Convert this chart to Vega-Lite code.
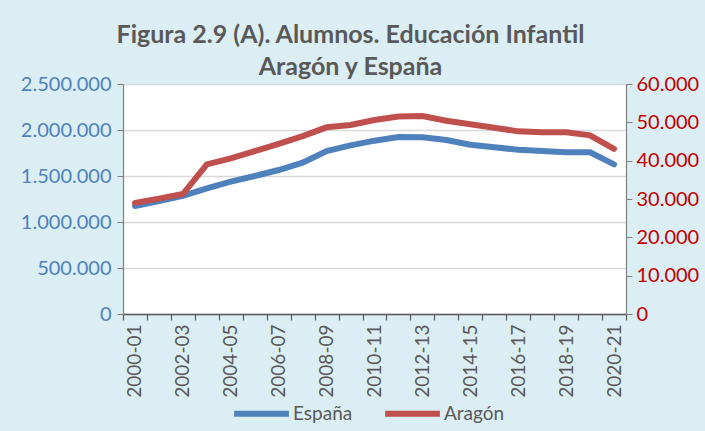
{
  "$schema": "https://vega.github.io/schema/vega-lite/v6.json",
  "width": 503,
  "height": 230,
  "autosize": {"type": "none"},
  "padding": {"left": 123, "top": 84, "right": 79, "bottom": 117},
  "background": "#DBEEF4",
  "title": {
    "text": ["Figura 2.9 (A). Alumnos. Educación Infantil", "Aragón y España"],
    "font": "Lato",
    "fontSize": 25,
    "fontWeight": "bold",
    "color": "#595959",
    "lineHeight": 32,
    "anchor": "middle",
    "baseline": "alphabetic",
    "dx": -24,
    "dy": 35,
    "offset": 9
  },
  "data": {
    "values": [
      {"curso": "2000-01", "serie": "España", "valor": 1174000},
      {"curso": "2001-02", "serie": "España", "valor": 1228000},
      {"curso": "2002-03", "serie": "España", "valor": 1283000},
      {"curso": "2003-04", "serie": "España", "valor": 1366000},
      {"curso": "2004-05", "serie": "España", "valor": 1438000},
      {"curso": "2005-06", "serie": "España", "valor": 1500000},
      {"curso": "2006-07", "serie": "España", "valor": 1565000},
      {"curso": "2007-08", "serie": "España", "valor": 1645000},
      {"curso": "2008-09", "serie": "España", "valor": 1772000},
      {"curso": "2009-10", "serie": "España", "valor": 1833000},
      {"curso": "2010-11", "serie": "España", "valor": 1884000},
      {"curso": "2011-12", "serie": "España", "valor": 1924000},
      {"curso": "2012-13", "serie": "España", "valor": 1920000},
      {"curso": "2013-14", "serie": "España", "valor": 1891000},
      {"curso": "2014-15", "serie": "España", "valor": 1840000},
      {"curso": "2015-16", "serie": "España", "valor": 1812000},
      {"curso": "2016-17", "serie": "España", "valor": 1786000},
      {"curso": "2017-18", "serie": "España", "valor": 1772000},
      {"curso": "2018-19", "serie": "España", "valor": 1757000},
      {"curso": "2019-20", "serie": "España", "valor": 1757000},
      {"curso": "2020-21", "serie": "España", "valor": 1627000},
      {"curso": "2000-01", "serie": "Aragón", "valor": 29000},
      {"curso": "2001-02", "serie": "Aragón", "valor": 30100},
      {"curso": "2002-03", "serie": "Aragón", "valor": 31300},
      {"curso": "2003-04", "serie": "Aragón", "valor": 39050},
      {"curso": "2004-05", "serie": "Aragón", "valor": 40600},
      {"curso": "2005-06", "serie": "Aragón", "valor": 42500},
      {"curso": "2006-07", "serie": "Aragón", "valor": 44400},
      {"curso": "2007-08", "serie": "Aragón", "valor": 46400},
      {"curso": "2008-09", "serie": "Aragón", "valor": 48700},
      {"curso": "2009-10", "serie": "Aragón", "valor": 49300},
      {"curso": "2010-11", "serie": "Aragón", "valor": 50600},
      {"curso": "2011-12", "serie": "Aragón", "valor": 51500},
      {"curso": "2012-13", "serie": "Aragón", "valor": 51650},
      {"curso": "2013-14", "serie": "Aragón", "valor": 50400},
      {"curso": "2014-15", "serie": "Aragón", "valor": 49500},
      {"curso": "2015-16", "serie": "Aragón", "valor": 48600},
      {"curso": "2016-17", "serie": "Aragón", "valor": 47650},
      {"curso": "2017-18", "serie": "Aragón", "valor": 47400},
      {"curso": "2018-19", "serie": "Aragón", "valor": 47400},
      {"curso": "2019-20", "serie": "Aragón", "valor": 46600},
      {"curso": "2020-21", "serie": "Aragón", "valor": 43100}
    ]
  },
  "encoding": {
    "x": {
      "field": "curso",
      "type": "ordinal",
      "sort": null,
      "scale": {"type": "band", "paddingInner": 0, "paddingOuter": 0},
      "axis": {
        "title": null,
        "labelAngle": 270,
        "tickBand": "extent",
        "labelExpr": "toNumber(slice(datum.label, 0, 4)) % 2 == 0 ? datum.label : ''",
        "labelFont": "Lato",
        "labelFontSize": 19,
        "labelColor": "#595959",
        "domainColor": "#595959",
        "domainWidth": 1.5,
        "tickColor": "#595959",
        "tickWidth": 1.2,
        "tickSize": 6,
        "labelPadding": 4,
        "grid": false
      }
    },
    "color": {
      "field": "serie",
      "type": "nominal",
      "scale": {"domain": ["España", "Aragón"], "range": ["#4F81BD", "#C0504D"]},
      "legend": {
        "title": null,
        "orient": "none",
        "legendX": 108,
        "legendY": 299,
        "direction": "horizontal",
        "symbolType": "stroke",
        "symbolStrokeWidth": 6,
        "symbolSize": 3000,
        "labelFont": "Lato",
        "labelFontSize": 19,
        "labelColor": "#595959",
        "labelOffset": 1,
        "columnPadding": 20,
        "padding": 0
      }
    }
  },
  "layer": [
    {
      "transform": [{"filter": "datum.serie === 'España'"}],
      "mark": {"type": "line", "strokeWidth": 6, "strokeCap": "round"},
      "encoding": {
        "y": {
          "field": "valor",
          "type": "quantitative",
          "scale": {"domain": [0, 2500000]},
          "axis": {
            "title": null,
            "values": [0, 500000, 1000000, 1500000, 2000000, 2500000],
            "format": ",d",
            "labelFont": "Lato",
            "labelFontSize": 20,
            "labelColor": "#4F81BD",
            "grid": true,
            "gridColor": "#D9D9D9",
            "gridWidth": 1.5,
            "domainColor": "#7F7F7F",
            "domainWidth": 1.2,
            "tickColor": "#7F7F7F",
            "tickSize": 6,
            "labelPadding": 6
          }
        }
      }
    },
    {
      "transform": [{"filter": "datum.serie === 'Aragón'"}],
      "mark": {"type": "line", "strokeWidth": 6, "strokeCap": "round"},
      "encoding": {
        "y": {
          "field": "valor",
          "type": "quantitative",
          "scale": {"domain": [0, 60000]},
          "axis": {
            "orient": "right",
            "title": null,
            "values": [0, 10000, 20000, 30000, 40000, 50000, 60000],
            "format": ",d",
            "labelFont": "Lato",
            "labelFontSize": 20,
            "labelColor": "#C00000",
            "grid": false,
            "domainColor": "#7F7F7F",
            "domainWidth": 1.2,
            "tickColor": "#7F7F7F",
            "tickSize": 6,
            "labelPadding": 4
          }
        }
      }
    }
  ],
  "resolve": {"scale": {"y": "independent"}},
  "config": {
    "view": {"fill": "white", "stroke": null},
    "locale": {
      "number": {"decimal": ",", "thousands": ".", "grouping": [3], "currency": ["", " €"]}
    }
  }
}
